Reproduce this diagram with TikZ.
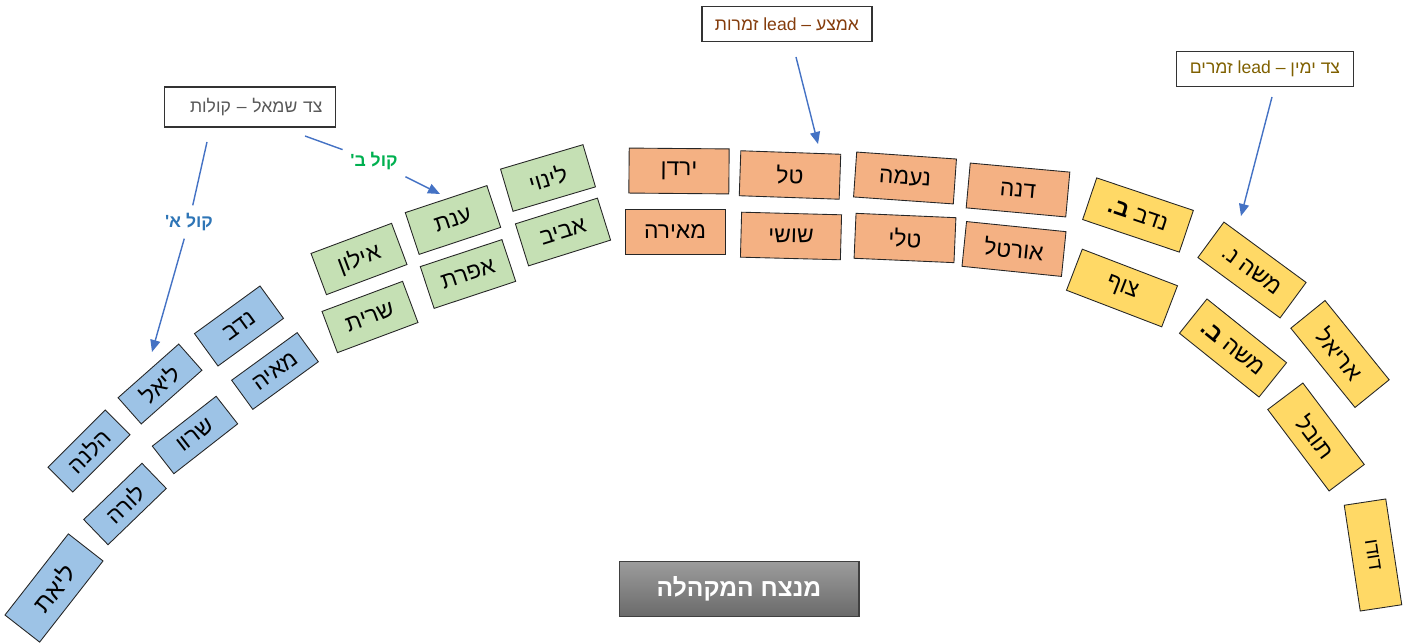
\documentclass[tikz,border=0pt]{standalone}
\usepackage{fontspec}
\usetikzlibrary{arrows.meta}
\newfontfamily\hebfont[Script=Hebrew]{Liberation Sans}
\TeXXeTstate=1
\newcommand{\hebtext}[1]{\hebfont\beginR #1\endR}

\definecolor{sopblue}{HTML}{9DC3E6}
\definecolor{altgreen}{HTML}{C5E0B4}
\definecolor{midorange}{HTML}{F4B183}
\definecolor{leadyellow}{HTML}{FFD966}
\definecolor{arrowblue}{HTML}{4472C4}
\definecolor{voiceA}{HTML}{2E75B6}
\definecolor{voiceB}{HTML}{00B050}
\definecolor{leftgray}{HTML}{595959}
\definecolor{midbrown}{HTML}{843C0C}
\definecolor{rightgold}{HTML}{7F6000}
\definecolor{condtop}{HTML}{9C9C9C}
\definecolor{condbot}{HTML}{6A6A6A}

\begin{document}
\begin{tikzpicture}[x=0.02cm,y=-0.02cm,
   box/.style={rectangle,draw=black!85,line width=0.5pt,inner sep=0pt,
    font=\fontsize{13}{15}\selectfont},
   sop/.style={box,fill=sopblue,minimum width=1.62cm,minimum height=0.7cm},
   alt/.style={box,fill=altgreen,minimum width=1.72cm,minimum height=0.88cm},
   mid/.style={box,fill=midorange,minimum width=2cm,minimum height=0.9cm},
   lead/.style={box,fill=leadyellow,minimum width=2.04cm,minimum height=0.88cm},
   note/.style={rectangle,draw=black!80,line width=0.6pt,minimum height=0.7cm,
    font=\fontsize{10}{12}\selectfont},
   voice/.style={font=\bfseries\fontsize{10}{12}\selectfont,inner sep=0.15cm},
   pointer/.style={draw=arrowblue,line width=0.8pt,
    -{Triangle[length=0.24cm,width=0.2cm]}}
    ]

    \useasboundingbox (0,0) rectangle (1411,644);

    % Sopranos (left):
    \node[sop,rotate=52,minimum width=2.06cm,minimum height=0.88cm,
      font=\fontsize{14}{16}\selectfont] (liat) at (54,588) {\hebtext{ליאת}};
    \node[sop,rotate=44] (laura) at (125,504) {\hebtext{לורה}};
    \node[sop,rotate=45] (helena) at (89,451) {\hebtext{הלנה}};
    \node[sop,rotate=38] (sharon) at (195,435) {\hebtext{שרוו}};
    \node[sop,rotate=41.5] (liel) at (160,384) {\hebtext{ליאל}};
    \node[sop,rotate=36,minimum height=0.72cm] (maya) at (275,371) {\hebtext{מאיה}};
    \node[sop,rotate=36,minimum height=0.8cm] (nadav) at (239,326) {\hebtext{נדב}};

    % Altos:
    \node[alt,rotate=20.5] (ilan) at (359,259) {\hebtext{אילון}};
    \node[alt,rotate=20.5] (sarit) at (370,317) {\hebtext{שרית}};
    \node[alt,rotate=18.3] (anat) at (453,220) {\hebtext{ענת}};
    \node[alt,rotate=18.3] (efrat) at (468,274) {\hebtext{אפרת}};
    \node[alt,rotate=16.5] (linoy) at (548,178) {\hebtext{לינוי}};
    \node[alt,rotate=17.4] (aviv) at (563,232) {\hebtext{אביב}};

    % Middle:
    \node[mid,rotate=-0.5] (yarden) at (679,171) {\hebtext{ירדן}};
    \node[mid] (meira) at (675,232) {\hebtext{מאירה}};
    \node[mid,rotate=-2] (tal) at (790,175) {\hebtext{טל}};
    \node[mid,rotate=-1.5] (shoshi) at (791,236) {\hebtext{שושי}};
    \node[mid,rotate=-4] (naama) at (905,178) {\hebtext{נעמה}};
    \node[mid,rotate=-2.5] (tali) at (905,238) {\hebtext{טלי}};
    \node[mid,rotate=-5.2] (dana) at (1018,190) {\hebtext{דנה}};
    \node[mid,rotate=-5.8] (ortal) at (1014,249) {\hebtext{אורטל}};

    % Right side:
    \node[lead,rotate=-18.6] (nadavb) at (1138,215) {\hebtext{נדב \textbf{ב.}}};
    \node[lead,rotate=-21] (tzuf) at (1122,288) {\hebtext{צוף}};
    \node[lead,rotate=-36.3] (moshen) at (1252,270) {\hebtext{משה נ.}};
    \node[lead,rotate=-38.7] (moshb) at (1233,348) {\hebtext{משה \textbf{ב.}}};
    \node[lead,rotate=-51] (ariel) at (1340,354) {\hebtext{אריאל}};
    \node[lead,rotate=-53] (tuval) at (1316,437) {\hebtext{תובל}};
    \node[lead,rotate=-81.4,minimum width=2.14cm,minimum height=0.84cm,
      font=\fontsize{11}{13}\selectfont] (dudu) at (1373,555) {\hebtext{דודו}};

    % Notes:
    \node[note,text=leftgray,text width=2.9cm,align=right,inner xsep=0.26cm,
      minimum height=0.8cm] (leftnote) at (250,107) {\hebtext{צד שמאל – קולות}};
    \node[note,text=midbrown,minimum width=3.4cm] (midnote) at (787,24)
      {\hebtext{אמצע – \beginL lead\endL{} זמרות}};
    \node[note,text=rightgold,minimum width=3.54cm] (rightnote) at (1265,69)
      {\hebtext{צד ימין – \beginL lead\endL{} זמרים}};

    % Conductor
    \node[rectangle,draw=black!75,line width=0.6pt,top color=condtop,
      bottom color=condbot,minimum width=4.8cm,minimum height=1.1cm,text=white,
      font=\bfseries\fontsize{14}{16}\selectfont] (conductor) at (739,589)
      {\hebtext{מנצח המקהלה}};

    % Voices
    \node[voice,text=voiceA] (voicea) at (189,222) {\hebtext{קול א'}};
    \node[voice,text=voiceB] (voiceb) at (374,161) {\hebtext{קול ב'}};

    % arrows
    \coordinate (astart) at (207,142);
    \coordinate (aend) at (152,352);
    \coordinate (bstart) at (305,136);
    \coordinate (bend) at (440,194);
    \coordinate (mstart) at (796,57);
    \coordinate (mend) at (818,144);
    \coordinate (rstart) at (1272,97);
    \coordinate (rend) at (1241,216);

    \draw[pointer] (astart) -- (voicea) -- (aend);
    \draw[pointer] (bstart) -- (voiceb) -- (bend);
    \draw[pointer] (mstart) -- (mend);
    \draw[pointer] (rstart) -- (rend);

\end{tikzpicture}
\end{document}
